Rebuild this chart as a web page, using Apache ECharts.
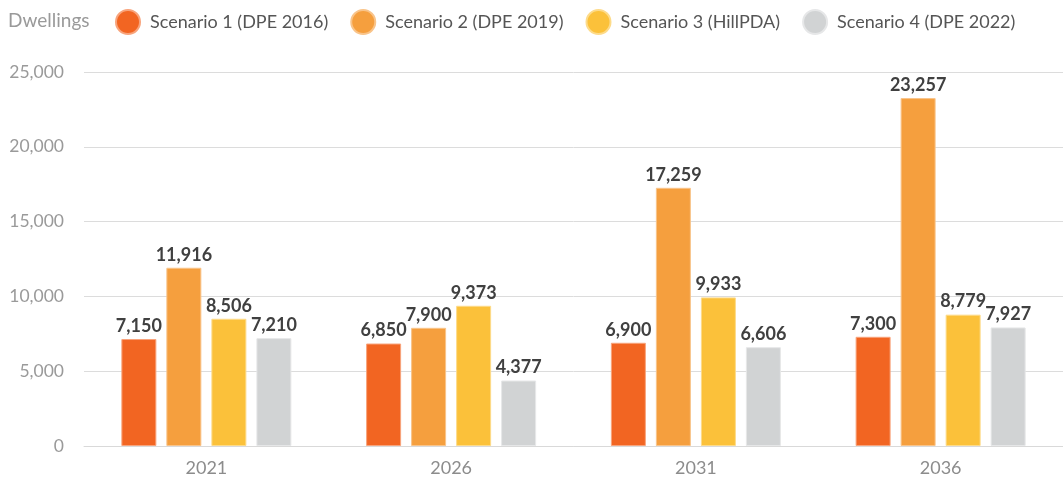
<!DOCTYPE html>
<html>
<head>
<meta charset="utf-8">
<script src="https://cdn.jsdelivr.net/npm/echarts@6/dist/echarts.min.js"></script>
<style>
  html, body { margin: 0; padding: 0; background: #ffffff; }
  #chart { width: 1063px; height: 482px; }
</style>
</head>
<body>
<div id="chart"></div>
<script>
// Projected dwellings by scenario
const years = ['2021', '2026', '2031', '2036'];
const scenarioNames = [
  'Scenario 1 (DPE 2016)',
  'Scenario 2 (DPE 2019)',
  'Scenario 3 (HillPDA)',
  'Scenario 4 (DPE 2022)'
];
const scenario1 = [7150, 6850, 6900, 7300];
const scenario2 = [11916, 7900, 17259, 23257];
const scenario3 = [8506, 9373, 9933, 8779];
const scenario4 = [7210, 4377, 6606, 7927];
const yTicks = { min: 0, max: 25000, interval: 5000 };

const palette = ['#F26522', '#F59F3E', '#FBC13A', '#D1D3D4'];
const edge = ['#F8A47C', '#F9C48A', '#FDDB8A', '#E6E7E8'];
const FONT = 'Lato';

const chart = echarts.init(document.getElementById('chart'), null, { renderer: 'canvas' });

const seriesValues = [scenario1, scenario2, scenario3, scenario4];
const series = seriesValues.map((vals, i) => ({
  name: scenarioNames[i],
  type: 'bar',
  data: vals,
  barWidth: 35,
  barGap: '28.6%',
  itemStyle: { color: palette[i], borderColor: edge[i], borderWidth: 1 },
  label: {
    show: true,
    position: 'top',
    distance: 4,
    fontFamily: FONT,
    fontWeight: 'bold',
    fontSize: 18,
    color: '#404040',
    formatter: p => p.value.toLocaleString('en-US')
  },
  emphasis: { disabled: true }
}));

chart.setOption({
  animation: false,
  color: palette,
  title: {
    text: 'Dwellings',
    left: 3,
    top: 6,
    textStyle: { fontFamily: FONT, fontWeight: 'normal', fontSize: 19, color: '#9a9a9a' }
  },
  legend: {
    data: scenarioNames,
    left: 110,
    top: 4,
    icon: 'circle',
    itemWidth: 24,
    itemHeight: 24,
    itemGap: 22,
    textStyle: { fontFamily: FONT, fontSize: 18, color: '#555555', padding: [0, 0, 0, 5] }
  },
  grid: { left: 84, top: 72, width: 981, bottom: 36, containLabel: false },
  xAxis: {
    type: 'category',
    data: years,
    axisLine: { show: true, lineStyle: { color: '#d9d9d9', width: 1 } },
    axisTick: { show: false },
    axisLabel: { fontFamily: FONT, fontSize: 18, color: '#8c8c8c', margin: 13 }
  },
  yAxis: {
    type: 'value',
    min: yTicks.min,
    max: yTicks.max,
    interval: yTicks.interval,
    axisLine: { show: false },
    axisTick: { show: false },
    splitLine: { lineStyle: { color: '#dcdcdc', width: 1 } },
    axisLabel: {
      fontFamily: FONT, fontSize: 17.5, color: '#9a9a9a', margin: 20,
      formatter: v => v.toLocaleString('en-US')
    }
  },
  series: series
});
</script>
</body>
</html>
